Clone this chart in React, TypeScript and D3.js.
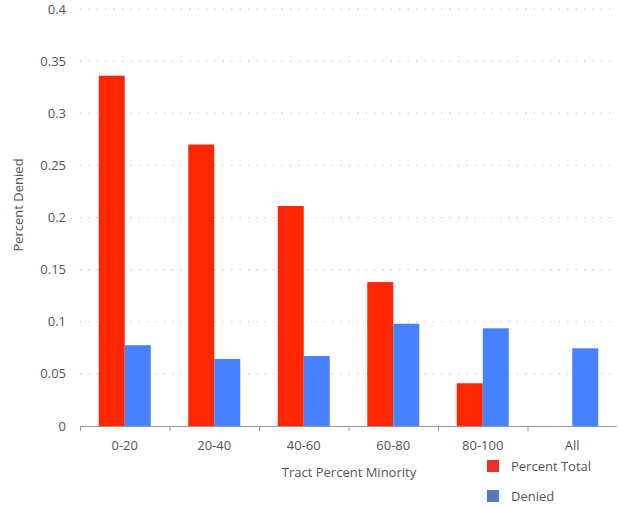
import React from "react";
import * as d3 from "d3";

const categories = ["0-20", "20-40", "40-60", "60-80", "80-100", "All"];
const percentTotal: (number | null)[] = [0.336, 0.27, 0.211, 0.138, 0.041, null];
const denied = [0.0775, 0.0643, 0.0671, 0.0981, 0.0937, 0.0745];
const yTicks = [0, 0.05, 0.1, 0.15, 0.2, 0.25, 0.3, 0.35, 0.4];
const seriesNames = ["Percent Total", "Denied"];

const W = 621, H = 508;
const left = 80, right = 617, top = 9, bottom = 426;
const font = "'Open Sans', 'Noto Sans', sans-serif";

export default function App() {
  const x = d3.scaleBand<string>().domain(categories).range([left, right]);
  const y = d3.scaleLinear().domain([0, 0.4]).range([bottom, top]);
  const barW = 26;
  const sub = d3.scaleBand<number>().domain([0, 1]).range([0, barW * 2]);
  const barColors = ["#ff2600", "#4682ff"];
  const legendColors = ["#ee3028", "#5579c0"];
  return (
    <svg width={W} height={H} style={{ position: "absolute", left: 0, top: 0 }} fontFamily={font}>
      {yTicks.map((t) => (
        <g key={t}>
          {t > 0 && (
            <line x1={left} x2={612} y1={y(t)} y2={y(t)} stroke="#bdbdbd" strokeWidth={1} strokeDasharray="1.2,7.2" />
          )}
          <text x={66} y={y(t)} dy="0.35em" textAnchor="end" fontSize={13} fill="#555">
            {d3.format("")(t)}
          </text>
        </g>
      ))}
      {categories.map((c, i) => {
        const gx = (x(c) as number) + x.bandwidth() / 2 - barW;
        const vals = [percentTotal[i], denied[i]];
        return (
          <g key={c}>
            {vals.map((v, j) =>
              v == null ? null : (
                <rect key={j} x={gx + (sub(j) as number)} y={y(v)} width={barW} height={y(0) - y(v)} fill={barColors[j]} />
              )
            )}
          </g>
        );
      })}
      <line x1={left} x2={right} y1={bottom + 0.5} y2={bottom + 0.5} stroke="#999" strokeWidth={1.2} />
      {categories.map((c) => (
        <line key={c} x1={(x(c) as number) + 0.5} x2={(x(c) as number) + 0.5} y1={bottom} y2={bottom + 5} stroke="#999" />
      ))}
      {categories.map((c) => (
        <text key={c} x={(x(c) as number) + x.bandwidth() / 2} y={450} textAnchor="middle" fontSize={13} fill="#555">
          {c}
        </text>
      ))}
      <text x={349} y={477} textAnchor="middle" fontSize={13} fill="#555">Tract Percent Minority</text>
      <text transform={`translate(23,${205}) rotate(-90)`} textAnchor="middle" fontSize={13} fill="#555">Percent Denied</text>
      {seriesNames.map((s, i) => (
        <g key={s} transform={`translate(487,${460 + i * 30})`}>
          <rect x={0} y={0} width={12} height={12} fill={legendColors[i]} />
          <text x={24} y={6} dy="0.35em" fontSize={13} fill="#555">{s}</text>
        </g>
      ))}
    </svg>
  );
}
